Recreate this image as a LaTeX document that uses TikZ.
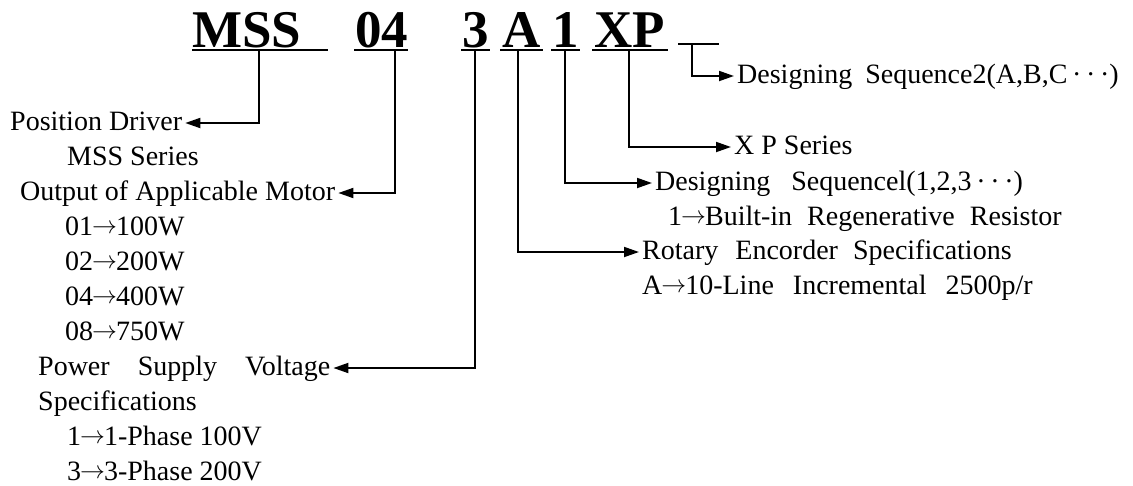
\documentclass[tikz,border=0pt]{standalone}
\usepackage{fontspec}
\setmainfont{Liberation Serif}
\usetikzlibrary{arrows.meta}
\newcommand{\ar}{\kern-1pt\raisebox{1.5pt}{\(\rightarrow\)}\kern-1pt}
\begin{document}
\begin{tikzpicture}[x=1pt,y=-1pt,
  lbl/.style={font=\fontsize{28}{32}\selectfont, inner xsep=3pt, inner ysep=0pt,
              text height=19pt, text depth=5pt, anchor=west},
  ttl/.style={font=\fontsize{53}{60}\selectfont\bfseries, inner sep=0pt, anchor=base west},
  uline/.style={line width=2pt},
  conn/.style={line width=1.8pt, -{Triangle[length=15pt,width=10pt]}}]
\useasboundingbox (0,0) rectangle (1133,485);

% title
\node[ttl] (tMSS) at (192,47) {MSS};
\node[ttl] (t04)  at (355,47) {04};
\node[ttl] (t3)   at (462,47) {3};
\node[ttl] (tA)   at (502,47) {A};
\node[ttl] (t1)   at (552,47) {1};
\node[ttl] (tXP)  at (594,47) {XP};

% underlines
\coordinate (uMSSa) at (192,50); \coordinate (uMSSb) at (328,50);
\coordinate (u04a) at (354,50);  \coordinate (u04b) at (408,50);
\coordinate (u3a) at (461,50);   \coordinate (u3b) at (490,50);
\coordinate (uAa) at (500,50);   \coordinate (uAb) at (543,50);
\coordinate (u1a) at (551,50);   \coordinate (u1b) at (580,50);
\coordinate (uXPa) at (592,50);  \coordinate (uXPb) at (668,50);
\coordinate (uXa) at (678,44);   \coordinate (uXb) at (719,44);
\draw[uline] (uMSSa) -- (uMSSb);
\draw[uline] (u04a) -- (u04b);
\draw[uline] (u3a) -- (u3b);
\draw[uline] (uAa) -- (uAb);
\draw[uline] (u1a) -- (u1b);
\draw[uline] (uXPa) -- (uXPb);
\draw[uline] (uXa) -- (uXb);

% connector origins
\coordinate (cMSS) at (259,50);
\coordinate (c04) at (395,50);
\coordinate (c3) at (475,50);
\coordinate (cA) at (518,50);
\coordinate (c1) at (565,50);
\coordinate (cXP) at (629,50);
\coordinate (cX) at (692,44);

% left labels
\node[lbl] (pd)  at (7,123)  {Position Driver};
\node[lbl] (mss) at (64,158) {MSS Series};
\node[lbl] (out) at (17,193) {Output of Applicable Motor};
\node[lbl] (o1)  at (62,228) {01\ar100W};
\node[lbl] (o2)  at (62,263) {02\ar200W};
\node[lbl] (o4)  at (62,298) {04\ar400W};
\node[lbl] (o8)  at (62,333) {08\ar750W};
\node[lbl] (psv) at (35,368) {\makebox[292pt][s]{Power Supply Voltage}};
\node[lbl] (spc) at (35,403) {Specifications};
\node[lbl] (p1)  at (64,438) {1\ar1-Phase 100V};
\node[lbl] (p3)  at (64,473) {3\ar3-Phase 200V};

% right labels
\node[lbl] (ds2) at (734,76)  {Designing\hspace{6pt} Sequence2(A,B,C\,·\,·\,·)};
\node[lbl] (xps) at (731,147) {X P Series};
\node[lbl] (ds1) at (652,183) {Designing\hspace{14pt} Sequencel(1,2,3\,·\,·\,·)};
\node[lbl] (bir) at (665,218) {1\ar Built-in\hspace{8pt} Regenerative\hspace{8pt} Resistor};
\node[lbl] (rot) at (639,252) {Rotary\hspace{10pt} Encorder\hspace{8pt} Specifications};
\node[lbl] (inc) at (639,287) {A\ar10-Line\hspace{12pt} Incremental\hspace{12pt} 2500p/r};

% connectors
\draw[conn] (cMSS) |- (pd.east);
\draw[conn] (c04) |- (out.east);
\draw[conn] (c3) |- (psv.east);
\draw[conn] (cA) |- (rot.west);
\draw[conn] (c1) |- (ds1.west);
\draw[conn] (cXP) |- (xps.west);
\draw[conn] (cX) |- (ds2.west);
\end{tikzpicture}
\end{document}
